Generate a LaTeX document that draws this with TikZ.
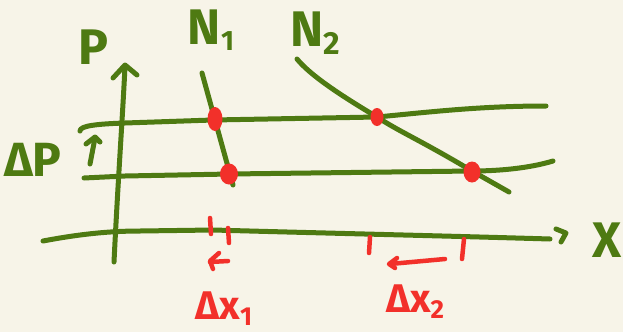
\documentclass[tikz,border=0pt]{standalone}
\usepackage{fontspec}
\setmainfont{Fira Sans}
\usetikzlibrary{shapes.geometric}
\definecolor{bg}{HTML}{F7F4E8}
\definecolor{gr}{HTML}{4E7A12}
\definecolor{rd}{HTML}{F2302A}
\begin{document}
\begin{tikzpicture}[x=1pt,y=-1pt,
  gline/.style={draw=gr, line width=5pt, line cap=round, line join=round},
  rline/.style={draw=rd, line width=4.5pt, line cap=round, line join=round},
  dotnode/.style={ellipse, fill=rd, inner sep=0pt},
  gtext/.style={text=gr, inner sep=0pt, font=\bfseries\fontsize{50}{50}\selectfont},
  rtext/.style={text=rd, inner sep=0pt, font=\bfseries\fontsize{40}{40}\selectfont}]
\fill[bg] (0,0) rectangle (623,332);
\useasboundingbox (0,0) rectangle (623,332);
% axes
\path[gline] (114,262) .. controls (118,180) and (123,110) .. (125,66);
\path[gline] (113,78) -- (125,65) -- (137,75);
\path[gline] (43,241) .. controls (80,234) and (110,231) .. (140,231)
  -- (213,230) .. controls (320,233) and (450,236) .. (550,239);
\path[gline] (556,229) -- (566,233) -- (561,242);
% horizontal price lines
\path[gline] (80,131) .. controls (80,126) and (95,124) .. (125,123)
  -- (213,120) -- (377,117) .. controls (430,112) and (480,106) .. (546,106);
\path[gline] (84,178) -- (125,176) -- (230,174) -- (472,171)
  .. controls (500,171) and (530,168) .. (553,161);
% small up arrow
\path[gline] (90,164) -- (95,138);
\path[gline] (86,144) -- (95,137) -- (100,142);
% demand curves
\path[gline] (202,73) -- (233,185);
\path[gline] (297,59) .. controls (310,75) and (340,95) .. (377,117)
  .. controls (400,132) and (420,140) .. (472,171) -- (509,192);
% intersection dots
\node[dotnode, minimum width=15pt, minimum height=24pt] (d1) at (215,119) {};
\node[dotnode, minimum width=18pt, minimum height=21pt] (d2) at (229,174) {};
\node[dotnode, minimum width=13pt, minimum height=18pt] (d3) at (377,117) {};
\node[dotnode, minimum width=17pt, minimum height=21pt] (d4) at (472,172) {};
% red ticks and arrows
\path[rline] (210,218) -- (211,234);
\path[rline] (228,228) -- (229,243);
\path[rline] (228,261) -- (210,262);
\path[rline] (219,253) -- (210,261) -- (213,269);
\path[rline] (370,237) -- (369,253);
\path[rline] (464,239) -- (462,259);
\path[rline] (445,259) -- (390,264);
\path[rline] (397,258) -- (389,264) -- (395,268);
% labels
\node[gtext] (lP) at (93,47) {P};
\node[gtext] (lN1) at (211,30) {N{\fontsize{28}{28}\selectfont\raisebox{-6pt}{1}}};
\node[gtext] (lN2) at (315,33) {N{\fontsize{32}{32}\selectfont\raisebox{-8pt}{2}}};
\node[gtext, font=\bfseries\fontsize{48}{48}\selectfont] (ldP) at (33,160) {ΔP};
\node[gtext, font=\bfseries\fontsize{50}{50}\selectfont, anchor=east] (lX) at (622,240) {X};
\node[rtext] (ldx1) at (224,309) {Δx{\fontsize{26}{26}\selectfont\raisebox{-6pt}{1}}};
\node[rtext] (ldx2) at (415,302) {Δx{\fontsize{26}{26}\selectfont\raisebox{-6pt}{2}}};
\end{tikzpicture}
\end{document}
